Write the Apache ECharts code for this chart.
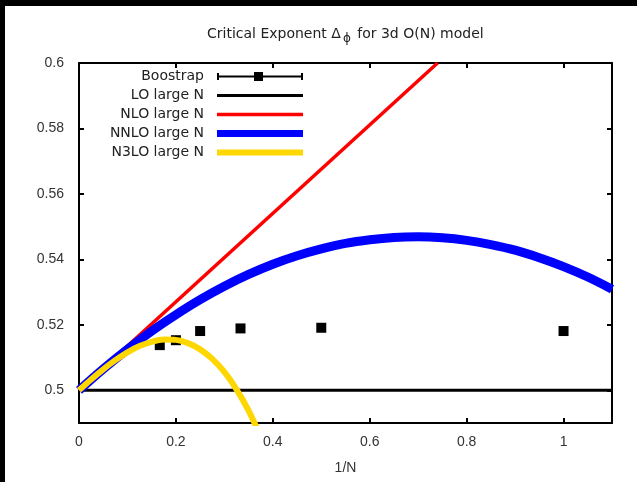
<!DOCTYPE html>
<html>
<head>
<meta charset="utf-8">
<script src="https://cdn.jsdelivr.net/npm/echarts@6/dist/echarts.min.js"></script>
<style>
  html, body { margin: 0; padding: 0; background: #000; }
  #main { width: 637px; height: 482px; }
</style>
</head>
<body>
<div id="main"></div>
<script>
// bootstrap points (1/N, Delta_phi)
var bootX = [0.1667, 0.2, 0.25, 0.3333, 0.5, 1];
var bootY = [0.5138, 0.5153, 0.5181, 0.5189, 0.5191, 0.5181];

// large N curves
var loX = [0, 1.1];
var loY = [0.5, 0.5];

var nloX = [0, 0.74];
var nloY = [0.5, 0.6];

var nnloX = [0, 0.05, 0.1, 0.15, 0.2, 0.25, 0.3, 0.35, 0.4, 0.45, 0.5, 0.55, 0.6,
             0.65, 0.7, 0.75, 0.8, 0.85, 0.9, 0.95, 1.0, 1.05, 1.1];
var nnloY = [0.5, 0.5065, 0.5125, 0.5181, 0.5231, 0.5277, 0.5318, 0.5354, 0.5385, 0.5411, 0.5432, 0.5449, 0.546,
             0.5467, 0.5469, 0.5466, 0.5458, 0.5445, 0.5428, 0.5405, 0.5378, 0.5346, 0.5309];

var n3loX = [0, 0.025, 0.05, 0.075, 0.1, 0.125, 0.15, 0.175, 0.2, 0.225, 0.25, 0.275, 0.3, 0.325, 0.35, 0.375];
var n3loY = [0.5, 0.5033, 0.5064, 0.5092, 0.5116, 0.5135, 0.5148, 0.5155, 0.5154, 0.5144, 0.5125, 0.5096, 0.5056, 0.5003, 0.4938, 0.4858];

var xTicks = [0, 0.2, 0.4, 0.6, 0.8, 1];
var yTicks = [0.5, 0.52, 0.54, 0.56, 0.58, 0.6];

function pairs(xs, ys) {
     return xs.map(function (x, i) { return [x, ys[i]]; });
}

var font = 'Liberation Sans';
var keyFont = 'DejaVu Sans';
var myChart = echarts.init(document.getElementById('main'));

var axisBase = {
     axisLine: { show: true, onZero: false, lineStyle: { color: '#000', width: 2 } },
     axisTick: { show: true, inside: true, length: 5, lineStyle: { color: '#000', width: 2 } },
     splitLine: { show: false }
};

var option = {
     backgroundColor: '#000',
     animation: false,
     graphic: [{
          type: 'rect',
          z: -100,
          shape: { x: 5, y: 6, width: 632, height: 476 },
          style: { fill: '#fff' }
     }],
     title: {
          left: 202,
          top: 19,
          text: 'Critical Exponent Δ{sub|ϕ} for 3d O(N) model',
          textStyle: {
               fontFamily: keyFont,
               fontSize: 14,
               fontWeight: 'normal',
               color: '#222',
               rich: {
                    sub: { fontFamily: keyFont, fontSize: 12, color: '#222', padding: [9, 2, 0, 2] }
               }
          }
     },
     legend: {
          orient: 'vertical',
          align: 'right',
          right: 334,
          top: 67,
          padding: 0,
          itemGap: 0,
          itemWidth: 86,
          itemHeight: 9,
          selectedMode: false,
          itemStyle: { borderWidth: 0 },
          textStyle: { fontFamily: keyFont, fontSize: 14, color: '#222', lineHeight: 19, padding: [0, 8, 0, 0] },
          data: [
               { name: 'Boostrap', icon: 'path://M0,1H2V3.5H37V0H46V3.5H84V1H86V8H84V5.5H46V9H37V5.5H2V8H0Z' },
               { name: 'LO large N', icon: 'path://M0,0H86V3H0Z' },
               { name: 'NLO large N', icon: 'path://M0,0H86V3.5H0Z' },
               { name: 'NNLO large N', icon: 'path://M0,0H86V7H0Z' },
               { name: 'N3LO large N', icon: 'path://M0,0H86V6H0Z' }
          ]
     },
     grid: { left: 79, right: 25, top: 63, bottom: 59 },
     xAxis: [
          Object.assign({}, axisBase, {
               type: 'value', min: 0, max: 1.1, position: 'bottom',
               name: '1/N', nameLocation: 'middle', nameGap: 38,
               nameTextStyle: { fontFamily: font, fontSize: 14, color: '#333' },
               axisTick: Object.assign({}, axisBase.axisTick, { customValues: xTicks }),
               axisLabel: { customValues: xTicks, margin: 12, fontFamily: font, fontSize: 14, color: '#333' }
          }),
          Object.assign({}, axisBase, {
               type: 'value', min: 0, max: 1.1, position: 'top',
               axisTick: Object.assign({}, axisBase.axisTick, { customValues: xTicks }),
               axisLabel: { show: false }
          })
     ],
     yAxis: [
          Object.assign({}, axisBase, {
               type: 'value', min: 0.49, max: 0.6, position: 'left',
               axisTick: Object.assign({}, axisBase.axisTick, { customValues: yTicks }),
               axisLabel: { customValues: yTicks, margin: 15, fontFamily: font, fontSize: 14, color: '#333' }
          }),
          Object.assign({}, axisBase, {
               type: 'value', min: 0.49, max: 0.6, position: 'right',
               axisTick: Object.assign({}, axisBase.axisTick, { customValues: yTicks }),
               axisLabel: { show: false }
          })
     ],
     series: [
          {
               name: 'Boostrap', type: 'scatter', symbol: 'rect', symbolSize: 10,
               itemStyle: { color: '#000', opacity: 1 },
               data: pairs(bootX, bootY)
          },
          {
               name: 'LO large N', type: 'line', showSymbol: false, symbol: 'none',
               color: '#000', lineStyle: { color: '#000', width: 3 },
               data: pairs(loX, loY)
          },
          {
               name: 'NLO large N', type: 'line', showSymbol: false, symbol: 'none',
               color: '#ff0000', lineStyle: { color: '#ff0000', width: 3.5 },
               data: pairs(nloX, nloY)
          },
          {
               name: 'NNLO large N', type: 'line', showSymbol: false, symbol: 'none', smooth: 0.3,
               color: '#0000ff', lineStyle: { color: '#0000ff', width: 9 },
               data: pairs(nnloX, nnloY)
          },
          {
               name: 'N3LO large N', type: 'line', showSymbol: false, symbol: 'none', smooth: 0.3,
               color: '#ffd700', lineStyle: { color: '#ffd700', width: 6 },
               data: pairs(n3loX, n3loY)
          }
     ]
};

myChart.setOption(option);
</script>
</body>
</html>
